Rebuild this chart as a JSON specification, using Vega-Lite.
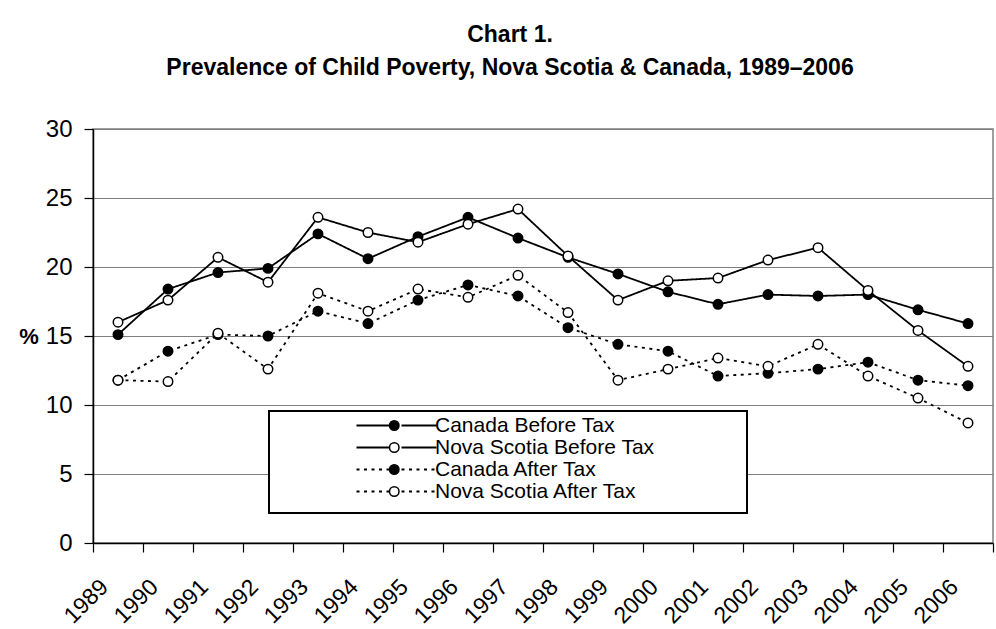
{
  "$schema": "https://vega.github.io/schema/vega-lite/v6.json",
  "width": 900,
  "height": 414,
  "autosize": {"type": "none"},
  "padding": {"left": 93, "top": 129, "right": 3, "bottom": 86},
  "background": "white",
  "config": {"font": "Liberation Sans", "view": {"stroke": "#808080", "strokeWidth": 1.5}},
  "title": {
    "text": ["Chart 1.", "Prevalence of Child Poverty, Nova Scotia & Canada, 1989–2006"],
    "fontSize": 23, "fontWeight": "bold", "font": "Liberation Sans", "color": "black",
    "anchor": "middle", "dx": -33, "lineHeight": 33.4, "baseline": "alphabetic", "offset": 19
  },
  "data": {"values": [
    {"year":"1989","series":"Canada Before Tax","value":15.1},{"year":"1989","series":"Nova Scotia Before Tax","value":16.0},{"year":"1989","series":"Canada After Tax","value":11.8},{"year":"1989","series":"Nova Scotia After Tax","value":11.8},
    {"year":"1990","series":"Canada Before Tax","value":18.4},{"year":"1990","series":"Nova Scotia Before Tax","value":17.6},{"year":"1990","series":"Canada After Tax","value":13.9},{"year":"1990","series":"Nova Scotia After Tax","value":11.7},
    {"year":"1991","series":"Canada Before Tax","value":19.6},{"year":"1991","series":"Nova Scotia Before Tax","value":20.7},{"year":"1991","series":"Canada After Tax","value":15.1},{"year":"1991","series":"Nova Scotia After Tax","value":15.2},
    {"year":"1992","series":"Canada Before Tax","value":19.9},{"year":"1992","series":"Nova Scotia Before Tax","value":18.9},{"year":"1992","series":"Canada After Tax","value":15.0},{"year":"1992","series":"Nova Scotia After Tax","value":12.6},
    {"year":"1993","series":"Canada Before Tax","value":22.4},{"year":"1993","series":"Nova Scotia Before Tax","value":23.6},{"year":"1993","series":"Canada After Tax","value":16.8},{"year":"1993","series":"Nova Scotia After Tax","value":18.1},
    {"year":"1994","series":"Canada Before Tax","value":20.6},{"year":"1994","series":"Nova Scotia Before Tax","value":22.5},{"year":"1994","series":"Canada After Tax","value":15.9},{"year":"1994","series":"Nova Scotia After Tax","value":16.8},
    {"year":"1995","series":"Canada Before Tax","value":22.2},{"year":"1995","series":"Nova Scotia Before Tax","value":21.8},{"year":"1995","series":"Canada After Tax","value":17.6},{"year":"1995","series":"Nova Scotia After Tax","value":18.4},
    {"year":"1996","series":"Canada Before Tax","value":23.6},{"year":"1996","series":"Nova Scotia Before Tax","value":23.1},{"year":"1996","series":"Canada After Tax","value":18.7},{"year":"1996","series":"Nova Scotia After Tax","value":17.8},
    {"year":"1997","series":"Canada Before Tax","value":22.1},{"year":"1997","series":"Nova Scotia Before Tax","value":24.2},{"year":"1997","series":"Canada After Tax","value":17.9},{"year":"1997","series":"Nova Scotia After Tax","value":19.4},
    {"year":"1998","series":"Canada Before Tax","value":20.7},{"year":"1998","series":"Nova Scotia Before Tax","value":20.8},{"year":"1998","series":"Canada After Tax","value":15.6},{"year":"1998","series":"Nova Scotia After Tax","value":16.7},
    {"year":"1999","series":"Canada Before Tax","value":19.5},{"year":"1999","series":"Nova Scotia Before Tax","value":17.6},{"year":"1999","series":"Canada After Tax","value":14.4},{"year":"1999","series":"Nova Scotia After Tax","value":11.8},
    {"year":"2000","series":"Canada Before Tax","value":18.2},{"year":"2000","series":"Nova Scotia Before Tax","value":19.0},{"year":"2000","series":"Canada After Tax","value":13.9},{"year":"2000","series":"Nova Scotia After Tax","value":12.6},
    {"year":"2001","series":"Canada Before Tax","value":17.3},{"year":"2001","series":"Nova Scotia Before Tax","value":19.2},{"year":"2001","series":"Canada After Tax","value":12.1},{"year":"2001","series":"Nova Scotia After Tax","value":13.4},
    {"year":"2002","series":"Canada Before Tax","value":18.0},{"year":"2002","series":"Nova Scotia Before Tax","value":20.5},{"year":"2002","series":"Canada After Tax","value":12.3},{"year":"2002","series":"Nova Scotia After Tax","value":12.8},
    {"year":"2003","series":"Canada Before Tax","value":17.9},{"year":"2003","series":"Nova Scotia Before Tax","value":21.4},{"year":"2003","series":"Canada After Tax","value":12.6},{"year":"2003","series":"Nova Scotia After Tax","value":14.4},
    {"year":"2004","series":"Canada Before Tax","value":18.0},{"year":"2004","series":"Nova Scotia Before Tax","value":18.3},{"year":"2004","series":"Canada After Tax","value":13.1},{"year":"2004","series":"Nova Scotia After Tax","value":12.1},
    {"year":"2005","series":"Canada Before Tax","value":16.9},{"year":"2005","series":"Nova Scotia Before Tax","value":15.4},{"year":"2005","series":"Canada After Tax","value":11.8},{"year":"2005","series":"Nova Scotia After Tax","value":10.5},
    {"year":"2006","series":"Canada Before Tax","value":15.9},{"year":"2006","series":"Nova Scotia Before Tax","value":12.8},{"year":"2006","series":"Canada After Tax","value":11.4},{"year":"2006","series":"Nova Scotia After Tax","value":8.7}
  ]},
  "encoding": {
    "x": {
      "field": "year", "type": "ordinal",
      "scale": {"type": "band", "paddingInner": 0, "paddingOuter": 0},
      "bandPosition": 0.5,
      "axis": {
        "title": null, "grid": false, "tickBand": "extent",
        "labelAngle": -45, "labelAlign": "right", "labelBaseline": "middle",
        "labelFontSize": 23, "labelColor": "black", "labelOffset": -14, "labelPadding": 31,
        "tickSize": 9, "tickColor": "black", "tickWidth": 1.2,
        "domainColor": "black", "domainWidth": 1.5
      }
    },
    "y": {
      "field": "value", "type": "quantitative",
      "scale": {"domain": [0, 30]},
      "axis": {
        "values": [0, 5, 10, 15, 20, 25, 30],
        "title": "%", "titleAngle": 0, "titleAlign": "right", "titleBaseline": "middle",
        "titleFontSize": 22, "titleFontWeight": "bold", "titleColor": "black", "titlePadding": 7,
        "labelFontSize": 24, "labelColor": "black", "labelPadding": 12,
        "tickSize": 9, "tickColor": "black", "tickWidth": 1.2,
        "domainColor": "black", "domainWidth": 1.5,
        "gridColor": "#808080", "gridWidth": 1.2
      }
    }
  },
  "layer": [
    {
      "mark": {"type": "line", "color": "black", "strokeWidth": 1.8},
      "encoding": {
        "strokeDash": {
          "field": "series", "type": "nominal",
          "scale": {
            "domain": ["Canada Before Tax", "Nova Scotia Before Tax", "Canada After Tax", "Nova Scotia After Tax"],
            "range": [[1, 0], [1, 0], [3, 4.5], [3, 4.5]]
          },
          "legend": {
            "title": "MMMMMMMMMMMMMMMMMMMMMMMMMMMMMMMMMMMMMMMMMMMMMMMMMMMMMMMMMMMMMMMMMMMMMMMMMMMMMMMMMMMMMMMMMMMMMM",
            "titleOrient": "bottom", "titleFontSize": 6, "titlePadding": 1, "titleOpacity": 0, "titleLimit": 2000,
            "titleAnchor": "start",
            "orient": "none", "legendX": 176, "legendY": 282, "direction": "vertical",
            "padding": 4, "strokeColor": "black", "fillColor": "white",
            "symbolType": "M-16,0H-2M2,0H16", "symbolSize": 25,
            "symbolStrokeColor": "black", "symbolStrokeWidth": 1.8, "symbolFillColor": "transparent",
            "symbolOffset": 113, "labelOffset": 28, "labelLimit": 500,
            "labelFontSize": 21, "labelColor": "black", "rowPadding": 0,
            "encode": {"legend": {"update": {"strokeWidth": {"value": 2}}}}
          }
        }
      }
    },
    {
      "mark": {"type": "point", "shape": "circle", "filled": true, "size": 90, "stroke": "black", "strokeWidth": 1.5, "opacity": 1},
      "encoding": {
        "fill": {
          "field": "series", "type": "nominal",
          "sort": ["Canada Before Tax", "Nova Scotia Before Tax", "Canada After Tax", "Nova Scotia After Tax"],
          "scale": {"range": ["black", "white", "black", "white"]},
          "legend": {
            "title": null, "orient": "none", "legendX": 176, "legendY": 282, "direction": "vertical",
            "padding": 4, "symbolType": "circle", "symbolSize": 90,
            "symbolStrokeColor": "black", "symbolStrokeWidth": 1.5, "symbolOpacity": 1,
            "symbolOffset": 110.75, "labelOffset": 28, "labelLimit": 500,
            "labelFontSize": 21, "labelExpr": "''", "rowPadding": 0
          }
        }
      }
    }
  ]
}
